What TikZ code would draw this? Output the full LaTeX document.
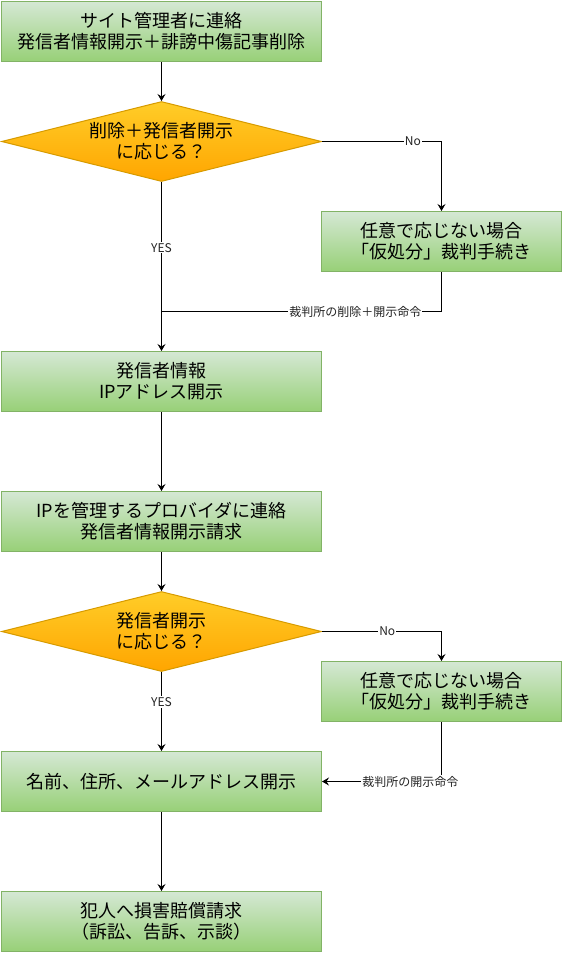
\documentclass[tikz,border=0pt]{standalone}
\usepackage{fontspec}
\setmainfont{Noto Sans CJK JP}
\usetikzlibrary{shapes.geometric,arrows.meta}
\definecolor{gtop}{HTML}{D5E8D4}
\definecolor{gbot}{HTML}{97D077}
\definecolor{gline}{HTML}{82B366}
\definecolor{otop}{HTML}{FFCD28}
\definecolor{obot}{HTML}{FFA500}
\definecolor{oline}{HTML}{D79B00}
\definecolor{lbltext}{HTML}{222222}
\begin{document}
\begin{tikzpicture}[x=1bp,y=-1bp,
  box/.style={draw=gline, line width=1bp, top color=gtop, bottom color=gbot,
    minimum width=320bp, minimum height=60bp, inner sep=0pt, align=center,
    font=\fontsize{18bp}{21bp}\selectfont, text=black},
  dec/.style={diamond, draw=oline, line width=1bp, top color=otop, bottom color=obot,
    minimum width=320bp, minimum height=80bp, aspect=4, inner sep=0pt, align=center,
    font=\fontsize{18bp}{21bp}\selectfont, text=black},
  flow/.style={draw=black, line width=1bp, -{Stealth[length=7bp,width=8bp,inset=2.5bp]}},
  plain/.style={draw=black, line width=1bp},
  lbl/.style={fill=white, inner sep=1bp, font=\fontsize{12bp}{14bp}\selectfont, text=lbltext}]
\useasboundingbox (0,0) rectangle (563,953);
\node[box] (b1) at (161.5,31.5) {サイト管理者に連絡\\発信者情報開示＋誹謗中傷記事削除};
\node[dec] (d1) at (161.5,141.5) {削除＋発信者開示\\に応じる？};
\node[box, minimum width=240bp] (b2) at (441.5,241.5) {任意で応じない場合\\「仮処分」裁判手続き};
\node[box] (b3) at (161.5,381.5) {発信者情報\\IPアドレス開示};
\node[box] (b4) at (161.5,521.5) {IPを管理するプロバイダに連絡\\発信者情報開示請求};
\node[dec] (d2) at (161.5,631.5) {発信者開示\\に応じる？};
\node[box, minimum width=240bp] (b5) at (441.5,691.5) {任意で応じない場合\\「仮処分」裁判手続き};
\node[box] (b6) at (161.5,781.5) {名前、住所、メールアドレス開示};
\node[box] (b7) at (161.5,921.5) {犯人へ損害賠償請求\\（訴訟、告訴、示談）};
\coordinate (j1) at (161.5,311.5);

\draw[flow] (b1.south) -- (d1.north);
\draw[flow] (d1.east) -| node[lbl, pos=0.38] {No} (b2.north);
\draw[flow] (d1.south) -- node[lbl, pos=0.39] {YES} (b3.north);
\draw[plain] (b2.south) |- node[lbl, pos=0.654] {裁判所の削除＋開示命令} (j1);
\draw[flow] (b3.south) -- (b4.north);
\draw[flow] (b4.south) -- (d2.north);
\draw[flow] (d2.east) -| node[lbl, pos=0.273] {No} (b5.north);
\draw[flow] (d2.south) -- node[lbl, pos=0.38] {YES} (b6.north);
\draw[flow] (b5.south) |- node[lbl, pos=0.63] {裁判所の開示命令} (b6.east);
\draw[flow] (b6.south) -- (b7.north);
\end{tikzpicture}
\end{document}
